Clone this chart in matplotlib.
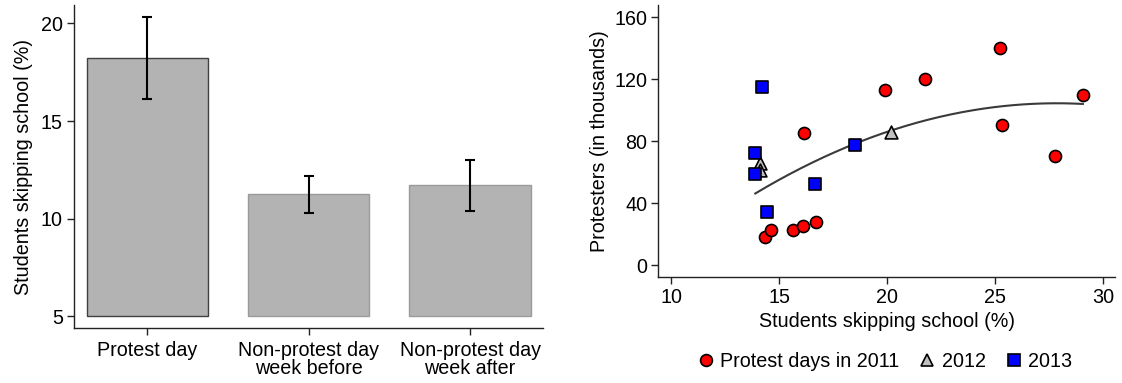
import numpy as np
import matplotlib
matplotlib.use('Agg')
import matplotlib.pyplot as plt
from matplotlib.lines import Line2D

plt.rcParams['font.family'] = ['Liberation Sans', 'DejaVu Sans']
plt.rcParams['font.size'] = 14

# Left panel: mean share of students skipping school, with error bars
categories = ['Protest day', 'Non-protest day\nweek before', 'Non-protest day\nweek after']
skip_mean = [18.24, 11.24, 11.72]
skip_low = [16.14, 10.30, 10.42]
skip_high = [20.31, 12.17, 13.00]
bar_base = 5

# Right panel: protest size against skipping rate
x_2011 = [25.23, 21.76, 19.89, 29.06, 16.14, 25.31, 27.75, 14.35, 14.61, 15.65, 16.13, 16.71]
y_2011 = [140.0, 120.2, 112.9, 110.1, 85.2, 90.3, 70.3, 18.1, 22.8, 22.8, 25.4, 27.7]
x_2012 = [20.17, 14.13, 14.13]
y_2012 = [86.2, 65.8, 61.5]
x_2013 = [14.23, 13.90, 13.90, 14.46, 16.68, 18.52]
y_2013 = [115.3, 72.7, 58.9, 34.2, 52.7, 77.4]

FS = 14.2

fig = plt.figure(figsize=(11.22, 3.83), dpi=100)
ax1 = fig.add_axes([0.0660, 0.1428, 0.4177, 0.8442])
ax2 = fig.add_axes([0.5867, 0.2760, 0.4073, 0.7110])

for ax in (ax1, ax2):
    ax.spines['top'].set_visible(False)
    ax.spines['right'].set_visible(False)
    for s in ('left', 'bottom'):
        ax.spines[s].set_color('#222222')
        ax.spines[s].set_linewidth(1.0)
    ax.tick_params(axis='both', direction='out', length=5, width=1.0,
                   color='#222222', labelsize=FS, pad=3)

# --- bar chart
pos = np.arange(len(categories))
heights = [m - bar_base for m in skip_mean]
edges = ['#404040', '#9a9a9a', '#9a9a9a']
ax1.bar(pos, heights, bottom=bar_base, width=0.752, color='#b3b3b3',
        edgecolor=edges, linewidth=1.0, zorder=2)
yerr = [np.array(skip_mean) - np.array(skip_low), np.array(skip_high) - np.array(skip_mean)]
ax1.errorbar(pos, skip_mean, yerr=yerr, fmt='none', ecolor='black',
             elinewidth=1.5, capsize=3.4, capthick=1.5, zorder=3)
ax1.set_xlim(-0.454, 2.45)
ax1.set_ylim(4.39, 20.94)
ax1.set_yticks([5, 10, 15, 20])
ax1.set_xticks(pos)
ax1.set_xticklabels(categories, linespacing=0.95)
ax1.tick_params(axis='x', pad=4)
ax1.set_ylabel('Students skipping school (%)', fontsize=FS, labelpad=6)

# --- scatter with quadratic fit
ax2.scatter(x_2011, y_2011, marker='o', s=75, c='#ff0000', edgecolors='black',
            linewidths=1.2, zorder=3)
ax2.scatter(x_2012, y_2012, marker='^', s=85, c='#c0c0c0', edgecolors='black',
            linewidths=1.2, zorder=3)
ax2.scatter(x_2013, y_2013, marker='s', s=75, c='#0000ff', edgecolors='black',
            linewidths=1.2, zorder=3)

x_all = np.array(x_2011 + x_2012 + x_2013)
y_all = np.array(y_2011 + y_2012 + y_2013)
coef = np.polyfit(x_all, y_all, 2)
xs = np.linspace(x_all.min(), x_all.max(), 200)
ax2.plot(xs, np.polyval(coef, xs), color='#3a3a3a', linewidth=1.5, zorder=2)

ax2.set_xlim(9.41, 30.56)
ax2.set_ylim(-7.74, 167.9)
ax2.set_xticks([10, 15, 20, 25, 30])
ax2.set_yticks([0, 40, 80, 120, 160])
ax2.set_xlabel('Students skipping school (%)', fontsize=FS, labelpad=3)
ax2.set_ylabel('Protesters (in thousands)', fontsize=FS, labelpad=4)

handles = [
    Line2D([], [], marker='o', linestyle='none', markersize=8.5,
           markerfacecolor='#ff0000', markeredgecolor='black', markeredgewidth=1.2),
    Line2D([], [], marker='^', linestyle='none', markersize=9,
           markerfacecolor='#c0c0c0', markeredgecolor='black', markeredgewidth=1.2),
    Line2D([], [], marker='s', linestyle='none', markersize=8,
           markerfacecolor='#0000ff', markeredgecolor='black', markeredgewidth=1.2),
]
fig.legend(handles, ['Protest days in 2011', '2012', '2013'], loc='center',
           bbox_to_anchor=(0.788, 0.057), ncol=3, frameon=False, fontsize=FS,
           handletextpad=0.25, columnspacing=0.9, handlelength=1.0)

fig.savefig('out.png', dpi=100)
